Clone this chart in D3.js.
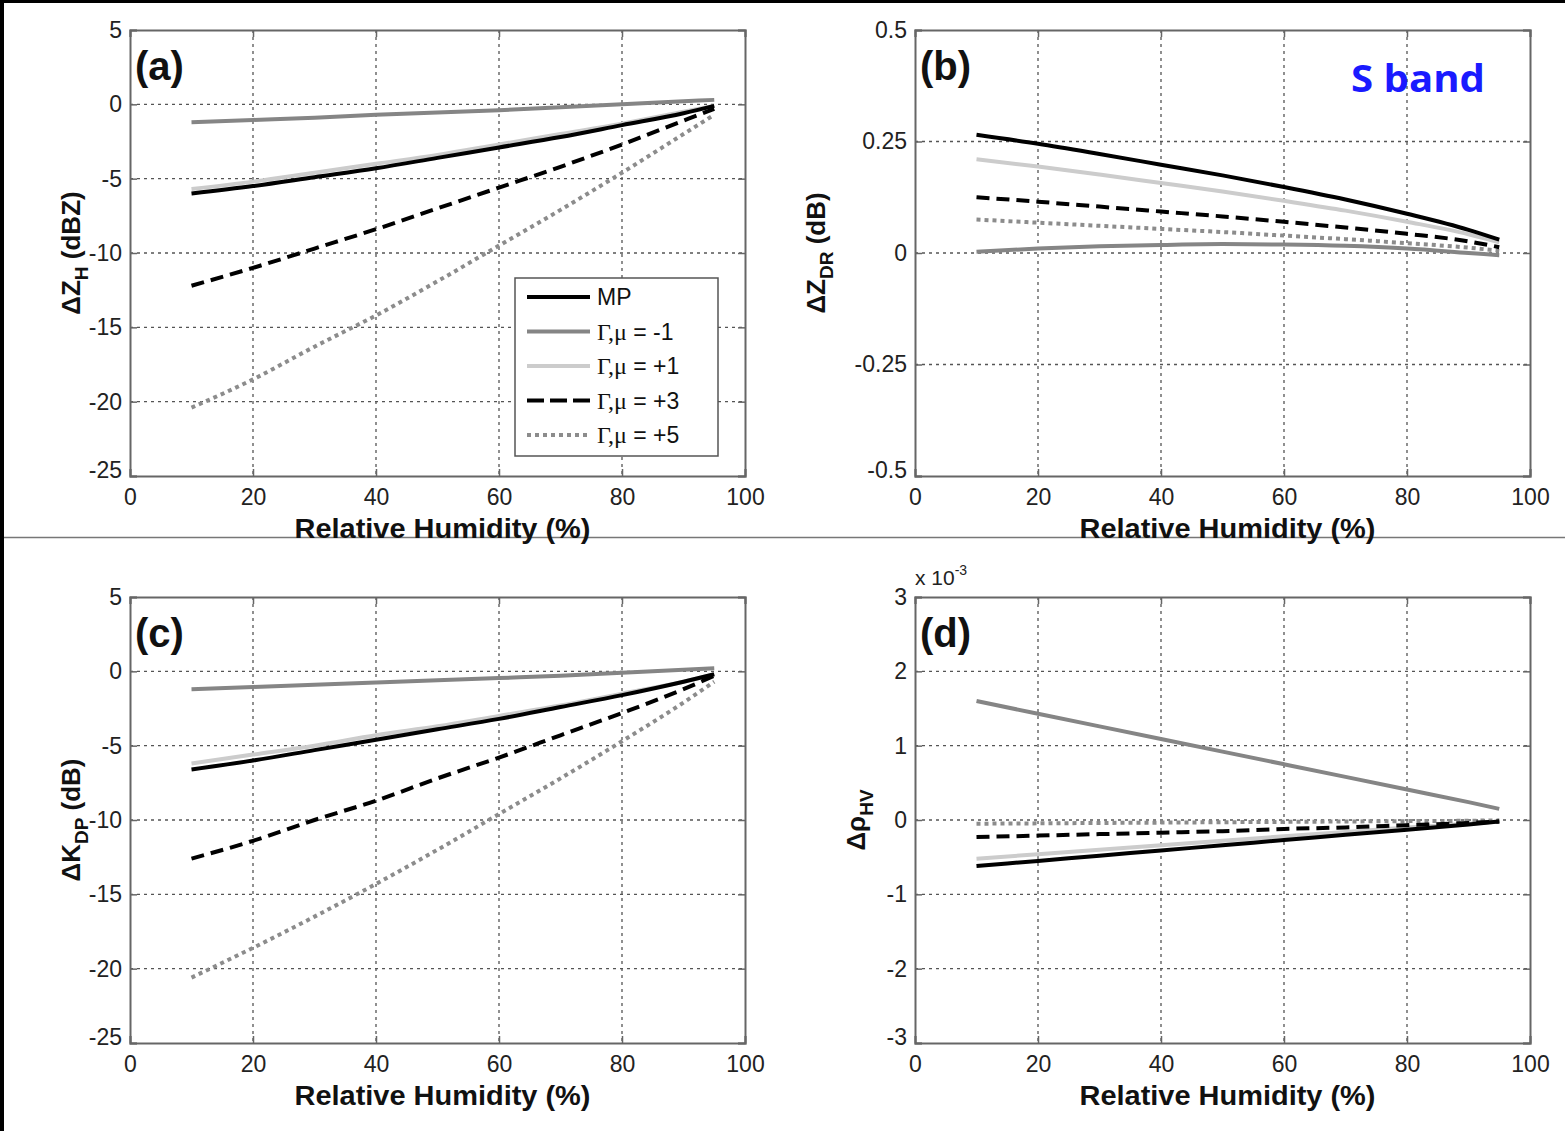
<!DOCTYPE html>
<html>
<head>
<meta charset="utf-8">
<title>S band sensitivity</title>
<script src="https://d3js.org/d3.v7.min.js"></script>
<style>
  body { margin: 0; background: #fff; }
  svg { display: block; font-family: "Liberation Sans", Arial, sans-serif; }
</style>
</head>
<body>
<svg id="chart" width="1565" height="1131"></svg>
<script>
// relative humidity sample points (%)
var rh = [10, 20, 30, 40, 50, 60, 70, 80, 90, 95];
var xTicks = [0, 20, 40, 60, 80, 100];
var seriesNames = ["MP", "Γ,μ = -1", "Γ,μ = +1", "Γ,μ = +3", "Γ,μ = +5"];

// (a) delta Z_H (dBZ)
var zhMP = [-6.0, -5.5, -4.9, -4.3, -3.6, -2.9, -2.2, -1.4, -0.6, -0.1];
var zhM1 = [-1.2, -1.05, -0.9, -0.7, -0.55, -0.4, -0.2, 0.0, 0.2, 0.3];
var zhP1 = [-5.7, -5.2, -4.6, -4.0, -3.4, -2.7, -2.0, -1.3, -0.5, -0.1];
var zhP3 = [-12.2, -11.0, -9.7, -8.4, -7.0, -5.6, -4.2, -2.7, -1.1, -0.3];
var zhP5 = [-20.4, -18.5, -16.3, -14.2, -11.9, -9.5, -7.1, -4.6, -2.0, -0.7];

// (b) delta Z_DR (dB)
var zdrMP = [0.265, 0.245, 0.222, 0.198, 0.174, 0.148, 0.12, 0.088, 0.052, 0.03];
var zdrM1 = [0.003, 0.01, 0.015, 0.018, 0.02, 0.019, 0.016, 0.01, 0.0, -0.005];
var zdrP1 = [0.21, 0.194, 0.176, 0.157, 0.138, 0.117, 0.095, 0.07, 0.042, 0.024];
var zdrP3 = [0.125, 0.115, 0.104, 0.093, 0.082, 0.07, 0.057, 0.043, 0.026, 0.013];
var zdrP5 = [0.075, 0.068, 0.061, 0.054, 0.047, 0.039, 0.031, 0.022, 0.012, 0.005];

// (c) delta K_DP (dB)
var kdpMP = [-6.6, -6.0, -5.3, -4.6, -3.9, -3.2, -2.4, -1.6, -0.7, -0.2];
var kdpM1 = [-1.2, -1.05, -0.9, -0.75, -0.6, -0.45, -0.3, -0.1, 0.1, 0.2];
var kdpP1 = [-6.2, -5.6, -5.0, -4.3, -3.7, -3.0, -2.3, -1.5, -0.7, -0.2];
var kdpP3 = [-12.6, -11.4, -10.0, -8.7, -7.2, -5.8, -4.3, -2.8, -1.2, -0.3];
var kdpP5 = [-20.6, -18.6, -16.5, -14.3, -12.0, -9.6, -7.2, -4.7, -2.1, -0.7];

// (d) delta rho_HV (x 10^-3)
var rhoMP = [-0.62, -0.55, -0.48, -0.41, -0.34, -0.27, -0.2, -0.13, -0.06, -0.02];
var rhoM1 = [1.6, 1.43, 1.26, 1.09, 0.92, 0.75, 0.58, 0.41, 0.24, 0.15];
var rhoP1 = [-0.52, -0.46, -0.4, -0.34, -0.28, -0.22, -0.16, -0.1, -0.05, -0.02];
var rhoP3 = [-0.23, -0.21, -0.19, -0.17, -0.15, -0.12, -0.1, -0.07, -0.04, -0.02];
var rhoP5 = [-0.05, -0.045, -0.04, -0.035, -0.03, -0.025, -0.02, -0.015, -0.01, -0.005];

var yTicksDb = [5, 0, -5, -10, -15, -20, -25];
var yTicksZdr = [0.5, 0.25, 0, -0.25, -0.5];
var yTicksRho = [3, 2, 1, 0, -1, -2, -3];

// line styles for the five series
var styles = [
  {color: "#000", dash: null},
  {color: "#858585", dash: null},
  {color: "#cccccc", dash: null},
  {color: "#000", dash: "13,7"},
  {color: "#8c8c8c", dash: "4,4"}
];

// plain hyphen minus like the original figure
var plain = function(d){ return String(d); };

var svg = d3.select("#chart");

// frame of the scanned page
svg.append("rect").attr("x", 0).attr("y", 0).attr("width", 1565).attr("height", 3).attr("fill", "#000");
svg.append("rect").attr("x", 0).attr("y", 0).attr("width", 4).attr("height", 1131).attr("fill", "#000");
svg.append("line").attr("x1", 4).attr("x2", 1565).attr("y1", 537.5).attr("y2", 537.5)
  .attr("stroke", "#777").attr("stroke-width", 1.5);

var panels = [
  {left: 130, top: 30, ydom: [-25, 5], yticks: yTicksDb, label: "(a)",
   series: [zhMP, zhM1, zhP1, zhP3, zhP5], ytitle: ["ΔZ", "H", " (dBZ)"], ytx: 70, legend: true},
  {left: 915, top: 30, ydom: [-0.5, 0.5], yticks: yTicksZdr, label: "(b)",
   series: [zdrMP, zdrM1, zdrP1, zdrP3, zdrP5], ytitle: ["ΔZ", "DR", " (dB)"], ytx: 815},
  {left: 130, top: 597, ydom: [-25, 5], yticks: yTicksDb, label: "(c)",
   series: [kdpMP, kdpM1, kdpP1, kdpP3, kdpP5], ytitle: ["ΔK", "DP", " (dB)"], ytx: 70},
  {left: 915, top: 597, ydom: [-3, 3], yticks: yTicksRho, label: "(d)",
   series: [rhoMP, rhoM1, rhoP1, rhoP3, rhoP5], ytitle: ["Δρ", "HV", ""], ytx: 855, exp: true}
];

var W = 615, H = 446;

panels.forEach(function(p) {
  var g = svg.append("g").attr("transform", "translate(" + p.left + "," + p.top + ")");
  var x = d3.scaleLinear().domain([0, 100]).range([0, W]);
  var y = d3.scaleLinear().domain(p.ydom).range([H, 0]);

  // dotted grid
  g.selectAll(".gx").data(xTicks.slice(1, -1)).enter().append("line")
    .attr("x1", function(d){ return x(d); }).attr("x2", function(d){ return x(d); })
    .attr("y1", 0).attr("y2", H)
    .attr("stroke", "#555").attr("stroke-width", 1.3).attr("stroke-dasharray", "3,4");
  g.selectAll(".gy").data(p.yticks.slice(1, -1)).enter().append("line")
    .attr("x1", 0).attr("x2", W)
    .attr("y1", function(d){ return y(d); }).attr("y2", function(d){ return y(d); })
    .attr("stroke", "#555").attr("stroke-width", 1.3).attr("stroke-dasharray", "3,4");

  // axes with inward ticks
  var ax = g.append("g").attr("transform", "translate(0," + H + ")")
    .call(d3.axisBottom(x).tickValues(xTicks).tickSize(-7).tickPadding(12).tickFormat(plain));
  var ay = g.append("g")
    .call(d3.axisLeft(y).tickValues(p.yticks).tickSize(-7).tickPadding(8).tickFormat(plain));
  g.append("g").attr("transform", "translate(" + W + ",0)")
    .call(d3.axisRight(y).tickValues(p.yticks).tickSize(-7).tickFormat(""));
  g.append("g")
    .call(d3.axisTop(x).tickValues(xTicks).tickSize(-7).tickFormat(""));
  g.selectAll(".domain").attr("stroke", "#666").attr("stroke-width", 2);
  g.selectAll(".tick line").attr("stroke", "#666").attr("stroke-width", 1.5);
  g.selectAll(".tick text").attr("font-size", 23).attr("fill", "#222")
    .attr("font-family", "Liberation Sans, Arial, sans-serif");
  ax.selectAll(".tick text").attr("dy", "0.72em");
  ay.selectAll(".tick text").filter(function(d){ return d === p.ydom[0]; }).attr("dy", "0.05em");

  // series
  var line = d3.line().curve(d3.curveMonotoneX)
    .x(function(d, i){ return x(rh[i]); }).y(function(d){ return y(d); });
  var order = [1, 2, 4, 3, 0];
  order.forEach(function(k) {
    g.append("path").datum(p.series[k])
      .attr("d", line)
      .attr("fill", "none")
      .attr("stroke", styles[k].color)
      .attr("stroke-width", 4)
      .attr("stroke-dasharray", styles[k].dash);
  });

  // panel label
  g.append("text").attr("x", 5).attr("y", 50)
    .attr("font-size", 40).attr("font-weight", "bold").attr("fill", "#111")
    .text(p.label);

  // x title
  g.append("text").attr("x", W / 2 + 5).attr("y", H + 62)
    .attr("text-anchor", "middle").attr("font-size", 27).attr("font-weight", "bold").attr("fill", "#111")
    .attr("textLength", 296).attr("lengthAdjust", "spacingAndGlyphs")
    .text("Relative Humidity (%)");

  // y title
  var yt = svg.append("text")
    .attr("transform", "translate(" + (p.ytx + 10) + "," + (p.top + H / 2) + ") rotate(-90)")
    .attr("text-anchor", "middle").attr("font-size", 26).attr("font-weight", "bold").attr("fill", "#111");
  yt.append("tspan").text(p.ytitle[0]);
  yt.append("tspan").attr("font-size", 19).attr("dy", 8).text(p.ytitle[1]);
  yt.append("tspan").attr("dy", -8).text(p.ytitle[2]);

  if (p.exp) {
    var ex = g.append("text").attr("x", 0).attr("y", -12).attr("font-size", 21).attr("fill", "#222");
    ex.append("tspan").text("x 10");
    ex.append("tspan").attr("font-size", 14).attr("dy", -10).text("-3");
  }

  if (p.legend) {
    var lg = g.append("g").attr("transform", "translate(" + (515 - p.left) + "," + (278 - p.top) + ")");
    lg.append("rect").attr("width", 203).attr("height", 178)
      .attr("fill", "#fff").attr("stroke", "#555").attr("stroke-width", 1.5);
    seriesNames.forEach(function(name, i) {
      var ly = 19 + i * 34.5;
      lg.append("line").attr("x1", 12).attr("x2", 75).attr("y1", ly).attr("y2", ly)
        .attr("stroke", styles[i].color).attr("stroke-width", 4)
        .attr("stroke-dasharray", i === 3 ? "17,6" : styles[i].dash);
      var t = lg.append("text").attr("x", 82).attr("y", ly + 8).attr("font-size", 23).attr("fill", "#111");
      if (i === 0) {
        t.text(name);
      } else {
        t.append("tspan").attr("font-family", "Liberation Serif, Times New Roman, serif").attr("font-size", 24).text("Γ,μ");
        t.append("tspan").text(name.slice(3));
      }
    });
  }
});

// band tag
svg.append("text").attr("x", 1418).attr("y", 92)
  .attr("text-anchor", "middle").attr("font-family", "Open Sans, sans-serif")
  .attr("font-size", 38).attr("font-weight", "bold").attr("fill", "#1a1aff")
  .attr("textLength", 134).attr("lengthAdjust", "spacingAndGlyphs")
  .text("S band");
</script>
</body>
</html>
